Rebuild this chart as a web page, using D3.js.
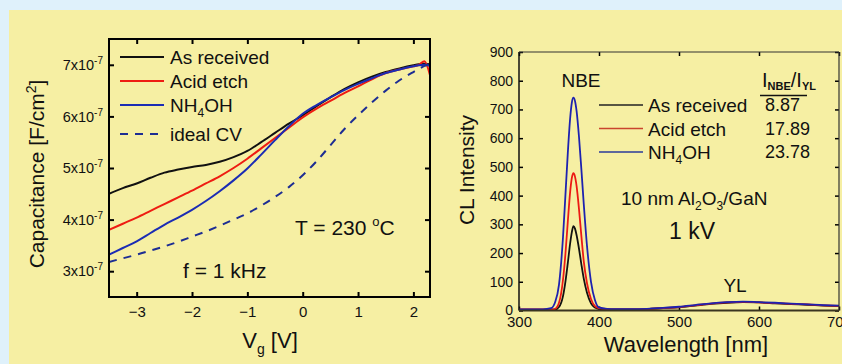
<!DOCTYPE html>
<html>
<head>
<meta charset="utf-8">
<script src="https://cdn.jsdelivr.net/npm/d3@7"></script>
<style>
  html, body { margin: 0; padding: 0; background: #dff1fb; }
  svg { display: block; font-family: "Liberation Sans", Arial, sans-serif; }
</style>
</head>
<body>
<svg id="chart" width="842" height="364"></svg>
<script>
// ---- left panel: C-V data ----
const vg = [-3.5, -3.25, -3, -2.75, -2.5, -2.25, -2, -1.75, -1.5, -1.25, -1, -0.75, -0.5, -0.25, 0, 0.25, 0.5, 0.75, 1, 1.25, 1.5, 1.75, 2, 2.1, 2.2, 2.3];
const cvAsReceived = [4.50, 4.61, 4.70, 4.81, 4.91, 4.97, 5.02, 5.06, 5.12, 5.21, 5.33, 5.50, 5.68, 5.86, 6.02, 6.20, 6.37, 6.53, 6.66, 6.77, 6.86, 6.93, 6.99, 7.01, 7.02, 7.01];
const cvAcidEtch = [3.80, 3.92, 4.04, 4.17, 4.30, 4.43, 4.56, 4.70, 4.84, 5.00, 5.18, 5.38, 5.58, 5.78, 5.98, 6.15, 6.30, 6.45, 6.58, 6.72, 6.84, 6.91, 6.97, 7.00, 7.07, 6.80];
const cvNH4OH = [3.32, 3.45, 3.58, 3.74, 3.90, 4.04, 4.19, 4.36, 4.55, 4.76, 4.99, 5.26, 5.54, 5.81, 6.05, 6.22, 6.37, 6.51, 6.63, 6.74, 6.84, 6.91, 6.97, 6.99, 7.00, 6.98];
const cvIdeal = [3.18, 3.25, 3.32, 3.40, 3.48, 3.57, 3.67, 3.77, 3.88, 4.00, 4.12, 4.27, 4.44, 4.63, 4.86, 5.13, 5.44, 5.75, 6.02, 6.27, 6.50, 6.70, 6.86, 6.92, 6.98, 7.03];
const cvTicksX = [-3, -2, -1, 0, 1, 2];
const cvTicksY = [3, 4, 5, 6, 7];

// ---- right panel: CL spectra ----
const wl = [300, 310, 320, 330, 340, 345, 350, 355, 358, 361, 364, 366, 368, 370, 372, 375, 378, 381, 385, 390, 395, 400, 410, 420, 440, 460, 480, 500, 520, 540, 560, 580, 600, 620, 640, 660, 680, 700];
const clAsReceived = [3, 3, 3, 3, 3, 3, 12, 50, 100, 165, 235, 272, 294, 285, 262, 215, 160, 110, 62, 25, 10, 5, 4, 4, 4, 5, 8, 11, 17, 23, 27, 29, 28, 25, 22, 20, 17, 15];
const clAcidEtch = [4, 4, 4, 4, 4, 6, 27, 107, 196, 309, 415, 461, 478, 466, 433, 353, 258, 170, 95, 40, 15, 8, 5, 4, 4, 5, 8, 12, 18, 24, 28, 30, 28, 26, 23, 21, 18, 16];
const clNH4OH = [4, 4, 4, 4, 8, 28, 90, 255, 400, 548, 671, 723, 741, 729, 694, 604, 490, 369, 225, 100, 36, 11, 6, 5, 5, 6, 9, 13, 19, 25, 29, 31, 29, 27, 24, 21, 19, 17];
const clTicksX = [300, 400, 500, 600, 700];
const clTicksY = [0, 100, 200, 300, 400, 500, 600, 700, 800, 900];
const ratioLabels = ["8.87", "17.89", "23.78"];

const svg = d3.select("#chart");
svg.append("rect").attr("x", 9).attr("y", 10).attr("width", 833).attr("height", 354).attr("fill", "#f6efa3");

// ================= left panel =================
const L = {left: 109, right: 430, top: 39, bottom: 297};
const xL = d3.scaleLinear().domain([-3.5, 2.3]).range([L.left, L.right]);
const yL = d3.scaleLinear().domain([2.5, 7.5]).range([L.bottom, L.top]);

svg.append("clipPath").attr("id", "clipL").append("rect")
  .attr("x", L.left).attr("y", L.top).attr("width", L.right - L.left).attr("height", L.bottom - L.top);

const gL = svg.append("g");

function styleAxis(g, w) {
  g.select(".domain").remove();
  g.selectAll(".tick line").attr("stroke", "#000").attr("stroke-width", w);
  g.selectAll("text").attr("fill", "#111");
}

gL.append("g").attr("transform", `translate(0,${L.bottom})`)
  .call(d3.axisBottom(xL).tickValues(cvTicksX).tickSize(-5).tickPadding(9).tickFormat(d3.format("d")))
  .call(g => styleAxis(g, 2)).selectAll("text").attr("font-size", 15).attr("font-family", "Liberation Sans, Arial");
gL.append("g").attr("transform", `translate(0,${L.top})`)
  .call(d3.axisTop(xL).tickValues(cvTicksX).tickSize(-5).tickFormat(""))
  .call(g => styleAxis(g, 2));
const yAxL = gL.append("g").attr("transform", `translate(${L.left},0)`)
  .call(d3.axisLeft(yL).tickValues(cvTicksY).tickSize(-5).tickPadding(6))
  .call(g => styleAxis(g, 2));
yAxL.selectAll(".tick text").text(null).attr("font-size", 14.5).attr("font-family", "Liberation Sans, Arial")
  .each(function(d) {
    const t = d3.select(this);
    t.append("tspan").text(d + "x10");
    t.append("tspan").attr("dy", -6).attr("font-size", 10).text("-7");
  });
gL.append("g").attr("transform", `translate(${L.right},0)`)
  .call(d3.axisRight(yL).tickValues(cvTicksY).tickSize(-5).tickFormat(""))
  .call(g => styleAxis(g, 2));

const lineL = d3.line().x((d, i) => xL(vg[i])).y(d => yL(d)).curve(d3.curveMonotoneX);
const cvSeries = [
  {name: "As received", vals: cvAsReceived, color: "#111111", dash: null},
  {name: "Acid etch", vals: cvAcidEtch, color: "#ee1c12", dash: null},
  {name: "NH4OH", vals: cvNH4OH, color: "#1b2cb4", dash: null},
  {name: "ideal CV", vals: cvIdeal, color: "#1d2d93", dash: "8,7"}
];
gL.append("g").attr("clip-path", "url(#clipL)").selectAll("path").data(cvSeries).join("path")
  .attr("d", d => lineL(d.vals)).attr("fill", "none").attr("stroke", d => d.color)
  .attr("stroke-width", 2).attr("stroke-dasharray", d => d.dash);

gL.append("rect").attr("x", L.left).attr("y", L.top).attr("width", L.right - L.left).attr("height", L.bottom - L.top)
  .attr("fill", "none").attr("stroke", "#000").attr("stroke-width", 2);

// legend
const legL = gL.append("g");
const legRowsL = [57, 81, 105, 134];
cvSeries.forEach((s, i) => {
  legL.append("line").attr("x1", 120).attr("x2", 164).attr("y1", legRowsL[i]).attr("y2", legRowsL[i])
    .attr("stroke", s.color).attr("stroke-width", 2).attr("stroke-dasharray", s.dash);
  const t = legL.append("text").attr("x", 170).attr("y", legRowsL[i] + 7).attr("font-size", 19).attr("fill", "#111");
  if (s.name === "NH4OH") {
    t.append("tspan").text("NH");
    t.append("tspan").attr("font-size", 12).attr("dy", 5).text("4");
    t.append("tspan").attr("dy", -5).text("OH");
  } else t.text(s.name);
});

const tT = gL.append("text").attr("x", 295).attr("y", 235).attr("font-size", 21).attr("fill", "#111");
tT.append("tspan").text("T = 230 ");
tT.append("tspan").attr("font-size", 13).attr("dy", -9).text("o");
tT.append("tspan").attr("dy", 9).text("C");
gL.append("text").attr("x", 183).attr("y", 278).attr("font-size", 21).attr("fill", "#111").text("f = 1 kHz");

const xtL = gL.append("text").attr("x", 270).attr("y", 348).attr("text-anchor", "middle").attr("font-size", 22).attr("fill", "#111");
xtL.append("tspan").text("V");
xtL.append("tspan").attr("font-size", 14).attr("dy", 6).text("g");
xtL.append("tspan").attr("dy", -6).text(" [V]");

const ytL = gL.append("text").attr("transform", "translate(44,174) rotate(-90)").attr("text-anchor", "middle")
  .attr("font-size", 21).attr("fill", "#111");
ytL.append("tspan").text("Capacitance [F/cm");
ytL.append("tspan").attr("font-size", 14).attr("dy", -8).text("2");
ytL.append("tspan").attr("dy", 8).text("]");

// ================= right panel =================
const R = {left: 519, right: 839, top: 52, bottom: 310.5};
const xR = d3.scaleLinear().domain([300, 700]).range([R.left, R.right]);
const yR = d3.scaleLinear().domain([0, 900]).range([R.bottom, R.top]);

svg.append("clipPath").attr("id", "clipR").append("rect")
  .attr("x", R.left).attr("y", R.top).attr("width", R.right - R.left).attr("height", R.bottom - R.top);

const gR = svg.append("g");
gR.append("g").attr("transform", `translate(0,${R.bottom})`)
  .call(d3.axisBottom(xR).tickValues(clTicksX).tickSize(-4).tickPadding(6))
  .call(g => styleAxis(g, 1.5)).selectAll("text").attr("font-size", 15).attr("font-family", "Liberation Sans, Arial");
gR.append("g").attr("transform", `translate(0,${R.top})`)
  .call(d3.axisTop(xR).tickValues(clTicksX).tickSize(-4).tickFormat(""))
  .call(g => styleAxis(g, 1.5));
gR.append("g").attr("transform", `translate(${R.left},0)`)
  .call(d3.axisLeft(yR).tickValues(clTicksY).tickSize(-4).tickPadding(6))
  .call(g => styleAxis(g, 1.5)).selectAll("text").attr("font-size", 14).attr("font-family", "Liberation Sans, Arial");
gR.append("g").attr("transform", `translate(${R.right},0)`)
  .call(d3.axisRight(yR).tickValues(clTicksY).tickSize(-4).tickFormat(""))
  .call(g => styleAxis(g, 1.5));

const lineR = d3.line().x((d, i) => xR(wl[i])).y(d => yR(d)).curve(d3.curveMonotoneX);
const clSeries = [
  {name: "As received", vals: clAsReceived, color: "#111111", leg: "#222222"},
  {name: "Acid etch", vals: clAcidEtch, color: "#ec1a14", leg: "#c9452e"},
  {name: "NH4OH", vals: clNH4OH, color: "#1d22b0", leg: "#2a3a9a"}
];
// blue drawn last so it sits on top like the reference
gR.append("g").attr("clip-path", "url(#clipR)").selectAll("path").data(clSeries).join("path")
  .attr("d", d => lineR(d.vals)).attr("fill", "none").attr("stroke", d => d.color).attr("stroke-width", 1.8);

// frame: left and bottom dark, top/right thinner
gR.append("line").attr("x1", R.left).attr("x2", R.left).attr("y1", R.top).attr("y2", R.bottom).attr("stroke", "#111").attr("stroke-width", 1.5);
gR.append("line").attr("x1", R.left).attr("x2", R.right).attr("y1", R.bottom).attr("y2", R.bottom).attr("stroke", "#3a3520").attr("stroke-width", 2);
gR.append("line").attr("x1", R.left).attr("x2", R.right).attr("y1", R.top).attr("y2", R.top).attr("stroke", "#333").attr("stroke-width", 1.2);
gR.append("line").attr("x1", R.right).attr("x2", R.right).attr("y1", R.top).attr("y2", R.bottom).attr("stroke", "#333").attr("stroke-width", 1.2);

const legRowsR = [105, 128.5, 152];
clSeries.forEach((s, i) => {
  gR.append("line").attr("x1", 599).attr("x2", 643).attr("y1", legRowsR[i]).attr("y2", legRowsR[i])
    .attr("stroke", s.leg).attr("stroke-width", 1.3);
  const t = gR.append("text").attr("x", 648).attr("y", legRowsR[i] + 7).attr("font-size", 19).attr("fill", "#111");
  if (s.name === "NH4OH") {
    t.append("tspan").text("NH");
    t.append("tspan").attr("font-size", 12).attr("dy", 5).text("4");
    t.append("tspan").attr("dy", -5).text("OH");
  } else t.text(s.name);
  gR.append("text").attr("x", 765).attr("y", legRowsR[i] + 6).attr("font-size", 18).attr("fill", "#111").text(ratioLabels[i]);
});

const hdr = gR.append("text").attr("x", 762).attr("y", 87).attr("font-size", 20).attr("fill", "#111");
hdr.append("tspan").text("I");
hdr.append("tspan").attr("font-size", 11).attr("dy", 3).attr("font-weight", "bold").text("NBE");
hdr.append("tspan").attr("dy", -3).text("/I");
hdr.append("tspan").attr("font-size", 11).attr("dy", 3).attr("font-weight", "bold").text("YL");
gR.append("line").attr("x1", 760).attr("x2", 807).attr("y1", 95.5).attr("y2", 95.5).attr("stroke", "#111").attr("stroke-width", 1.3);

gR.append("text").attr("x", 581).attr("y", 87).attr("text-anchor", "middle").attr("font-size", 19).attr("fill", "#111").text("NBE");
gR.append("text").attr("x", 735).attr("y", 292).attr("text-anchor", "middle").attr("font-size", 19).attr("fill", "#111").text("YL");

const al = gR.append("text").attr("x", 621).attr("y", 205).attr("font-size", 19).attr("fill", "#111");
al.append("tspan").text("10 nm Al");
al.append("tspan").attr("font-size", 12).attr("dy", 5).text("2");
al.append("tspan").attr("dy", -5).text("O");
al.append("tspan").attr("font-size", 12).attr("dy", 5).text("3");
al.append("tspan").attr("dy", -5).text("/GaN");
gR.append("text").attr("x", 692).attr("y", 239).attr("text-anchor", "middle").attr("font-size", 23).attr("fill", "#111").text("1 kV");

gR.append("text").attr("x", 686).attr("y", 352).attr("text-anchor", "middle").attr("font-size", 22).attr("fill", "#111").text("Wavelength [nm]");
gR.append("text").attr("transform", "translate(474,170) rotate(-90)").attr("text-anchor", "middle")
  .attr("font-size", 21).attr("fill", "#111").text("CL Intensity");
</script>
</body>
</html>
